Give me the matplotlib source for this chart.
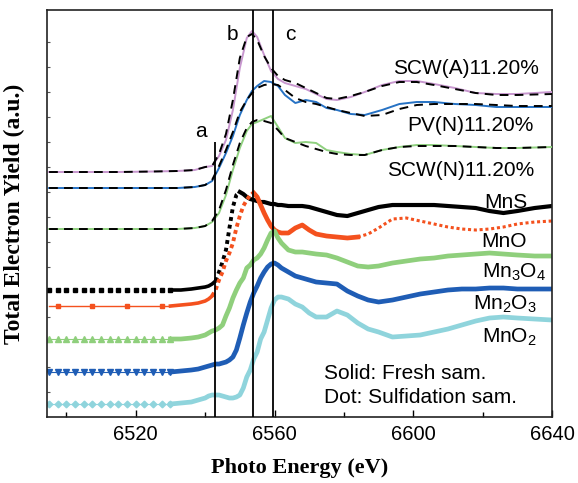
import numpy as np
import matplotlib
matplotlib.use('Agg')
import matplotlib.pyplot as plt

plt.rcParams['font.family'] = ['Liberation Sans', 'DejaVu Sans']
plt.rcParams['mathtext.default'] = 'regular'

# ---- data (photon energy in eV, yield in a.u. incl. vertical offsets) ----
E_top = [6495, 6505, 6515, 6525, 6532, 6537, 6540, 6542, 6544, 6546,
         6548, 6550, 6552, 6553.5, 6555, 6557, 6559, 6561, 6563, 6566,
         6569, 6572, 6575, 6578, 6582, 6586, 6591, 6596, 6601, 6606,
         6612, 6618, 6624, 6630, 6640]

scw_a = [245, 245, 245, 245.5, 246, 247, 250, 251, 261, 277,
         307, 349, 379, 386, 380, 362, 346, 338, 334, 331,
         328, 323, 318, 317, 320, 325, 332, 336, 336, 333,
         329, 324, 323, 323, 325]
scw_a_sulf = [245, 245, 245, 245.5, 246, 247, 250, 251, 263, 283,
              317, 359, 380, 383, 377, 361, 349, 341, 337, 334,
              329, 324, 319, 318, 321, 325, 331, 335, 335, 332,
              328, 324, 322, 322, 323]
pv_n = [229, 229, 229, 229, 229, 230, 232, 236, 249, 264,
        281, 302, 317, 326, 331, 336, 335, 331, 322, 314,
        317, 315, 309, 307, 303, 302, 307, 313, 315, 315,
        313, 312, 310, 310, 310]
pv_n_sulf = [229, 229, 229, 229, 229, 230, 232, 237, 251, 267,
             285, 305, 317, 324, 329, 332, 333, 332, 327, 319,
             315, 313, 310, 307, 304, 301, 302, 308, 312, 313,
             313, 313, 312, 311, 311]
scw_n = [188, 188, 188, 188, 188, 189, 191, 195, 204, 222,
         247, 269, 286, 293, 295, 298, 301, 290, 279, 274,
         275, 274, 267, 265, 263, 262, 267, 270, 272, 272,
         271, 270, 269, 269, 270]
scw_n_sulf = [188, 188, 188, 188, 188, 189, 191, 196, 207, 227,
              252, 274, 289, 295, 297, 296, 294, 287, 279, 275,
              271, 268, 265, 263, 262, 262, 267, 270, 271, 271,
              271, 270, 269, 269, 270]

E_ref = [6495, 6497.5, 6500, 6502.5, 6505, 6507.5, 6510, 6512.5, 6515, 6517.5,
         6520, 6522.5, 6525, 6527.5, 6530, 6533, 6536, 6538,
         6540, 6541, 6542, 6543, 6544, 6545, 6546, 6547, 6548, 6549, 6550,
         6551, 6552, 6553, 6554, 6555, 6556, 6557, 6558, 6559, 6560, 6561, 6562,
         6564, 6566, 6568, 6570, 6572,
         6575, 6578, 6581, 6584, 6587, 6590,
         6594, 6598, 6602, 6606, 6610, 6614, 6618, 6622, 6626, 6630,
         6635, 6640]

mns = [127, 127, 127, 127, 127, 127, 127, 127, 127, 127,
       127, 127, 127, 127, 127, 127, 128, 129,
       130, 131, 133, 136, 145, 155, 167, 189, 210, 222, 225,
       223, 220, 218, 217, 216, 215, 215, 214, 213, 213, 212, 212,
       211, 211, 211, 210, 208,
       205, 202, 201, 204, 207, 210,
       212, 212, 212, 212, 211, 210, 209, 206, 204, 206,
       209, 211]
mno = [111, 111, 111, 111, 111, 111, 111, 111, 111, 111,
       111, 111, 111, 111, 111, 112, 113, 114,
       116, 118, 121, 127, 137, 145, 156, 164, 174, 189, 201,
       211, 217, 222, 224, 220, 212, 204, 197, 191, 187, 185, 184,
       184, 189, 192, 187, 183,
       181, 180, 179, 180, 183, 189,
       198, 199, 196, 193, 190, 188, 187, 188, 190, 193,
       195, 196]
mn3o4 = [78, 78, 78, 78, 78, 78, 78, 78, 78, 78,
         78, 78, 78, 78, 78, 78, 79, 80,
         82, 84, 86, 87, 89, 92, 101, 109, 119, 127, 134,
         139, 149, 152, 157, 159, 163, 169, 177, 184, 186, 179, 174,
         167, 165, 165, 164, 163,
         162, 159, 155, 151, 150, 151,
         154, 156, 158, 159, 161, 162, 163, 164, 163, 162,
         161, 161]
mn2o3 = [45, 45, 45, 45, 45, 45, 45, 45, 45, 45,
         45, 45, 45, 45, 45, 46, 47, 48,
         50, 51, 52, 53, 53, 54, 55, 57, 60, 67, 79,
         92, 104, 115, 124, 131, 139, 145, 150, 153, 154, 152, 149,
         145, 141, 139, 137, 135,
         134, 133, 126, 121, 117, 115,
         117, 120, 123, 125, 127, 128, 128, 129, 129, 128,
         128, 128]
mno2 = [13, 13, 13, 13, 13, 13, 13, 13, 13, 13,
        13, 13, 13, 13, 13, 14, 15, 17,
        19, 21, 22, 22, 22, 21, 20, 19, 19, 20, 22,
        29, 40, 47, 58, 65, 78, 85, 97, 109, 117, 120, 120,
        118, 113, 110, 104, 100,
        100, 106, 102, 94, 88, 85,
        80, 81, 82, 85, 88, 92, 96, 99, 100, 99,
        98, 97]

edge_a, edge_b, edge_c = 6542.7, 6553.7, 6559.7

# ---- figure ----
fig = plt.figure(figsize=(5.78, 4.83), dpi=100)
ax = fig.add_axes([0.0813, 0.1366, 0.8737, 0.8427])

purple = '#c897cf'
blue_top = '#2672c4'
green_top = '#8fd07f'
red = '#f4511e'
green = '#8fcf7c'
blue = '#1f5db5'
cyan = '#8fd4dc'

dash = (0, (4.5, 3.2))
for E, y, ys, c in [(E_top, scw_a, scw_a_sulf, purple),
                    (E_top, pv_n, pv_n_sulf, blue_top),
                    (E_top, scw_n, scw_n_sulf, green_top)]:
    ax.plot(E, y, color=c, lw=1.4, zorder=3)
    ax.plot(E, ys, color='black', lw=1.4, ls=dash, zorder=4)

E_ref = np.array(E_ref)


def piece(y, lo, hi, **kw):
    y = np.asarray(y)
    m = (E_ref >= lo) & (E_ref <= hi)
    ax.plot(E_ref[m], y[m], **kw)


pre_end = 6530

# MnS: dots in pre-edge and on the edge
piece(mns, 6490, pre_end, color='black', ls='none', marker='s', ms=3.2)
piece(mns, pre_end, 6543, color='black', lw=2.6)
piece(mns, 6543, 6550, color='black', lw=2.8, ls=(0, (1, 1)))
piece(mns, 6550, 6650, color='black', lw=3)

# MnO
piece(mno, 6490, pre_end, color=red, lw=1.0, marker='s', ms=3, markevery=(1, 4))
piece(mno, pre_end, 6542, color=red, lw=2.6)
piece(mno, 6542, 6554, color=red, lw=2.8, ls=(0, (1, 0.9)))
piece(mno, 6554, 6584, color=red, lw=3.4)
piece(mno, 6584, 6650, color=red, lw=2.2, ls=(0, (1, 0.9)))

# oxides: markers in pre-edge, thick trace after
for y, c, mk, ms in [(mn3o4, green, '^', 4.5), (mn2o3, blue, 'v', 4.5),
                     (mno2, cyan, 'D', 3.4)]:
    piece(y, 6490, pre_end, color=c, lw=0.8, marker=mk, ms=ms)
    piece(y, pre_end, 6650, color=c, lw=3.4)

# reference lines a, b, c
ax.vlines(edge_a, 0, 275, color='black', lw=1.3, zorder=5)
ax.axvline(edge_b, color='black', lw=1.3, zorder=5)
ax.axvline(edge_c, color='black', lw=1.3, zorder=5)

fs = 15
ax.text(6538.8, 280, 'a', fontsize=fs, ha='center', va='baseline')
ax.text(6547.9, 377, 'b', fontsize=fs, ha='center', va='baseline')
ax.text(6564.6, 377, 'c', fontsize=fs, ha='center', va='baseline')

labels = [('SCW(A)11.20%', 6636.3, 343),
          ('PV(N)11.20%', 6634.8, 286),
          ('SCW(N)11.20%', 6634.8, 241),
          ('MnS', 6632.8, 209),
          ('MnO', 6632.8, 170),
          ('Mn$_3$O$_4$', 6638.3, 139),
          ('Mn$_2$O$_3$', 6635.5, 107),
          ('MnO$_2$', 6635.5, 74)]
for s, x, y in labels:
    ax.text(x, y, s, fontsize=fs, ha='right', va='baseline', zorder=6)

ax.text(6574.4, 38, 'Solid: Fresh sam.', fontsize=fs, ha='left', va='baseline')
ax.text(6574.4, 14, 'Dot: Sulfidation sam.', fontsize=fs, ha='left', va='baseline')

ax.set_xlim(6494.4, 6640)
ax.set_ylim(0, 407)
ax.set_xticks([6520, 6560, 6600, 6640])
ax.set_xticks([6500, 6540, 6580, 6620], minor=True)
ax.set_yticks(np.arange(25, 400, 25))
ax.set_yticklabels([])
ax.tick_params(axis='x', which='major', direction='in', length=5, width=1,
               labelsize=14.5, pad=6)
ax.tick_params(axis='x', which='minor', direction='in', length=3.5, width=1)
ax.tick_params(axis='y', which='major', direction='in', length=2, width=0.8,
               colors='#555555')
for sp in ax.spines.values():
    sp.set_linewidth(1.2)
    sp.set_color('#222222')

serif = ['Liberation Serif', 'DejaVu Serif']
ax.set_xlabel('Photo Energy (eV)', fontsize=16, fontweight='bold',
              family=serif, labelpad=10)
ax.set_ylabel('Total Electron Yield (a.u.)', fontsize=17, fontweight='bold',
              family=serif, labelpad=12)

fig.savefig('out.png', dpi=100)
